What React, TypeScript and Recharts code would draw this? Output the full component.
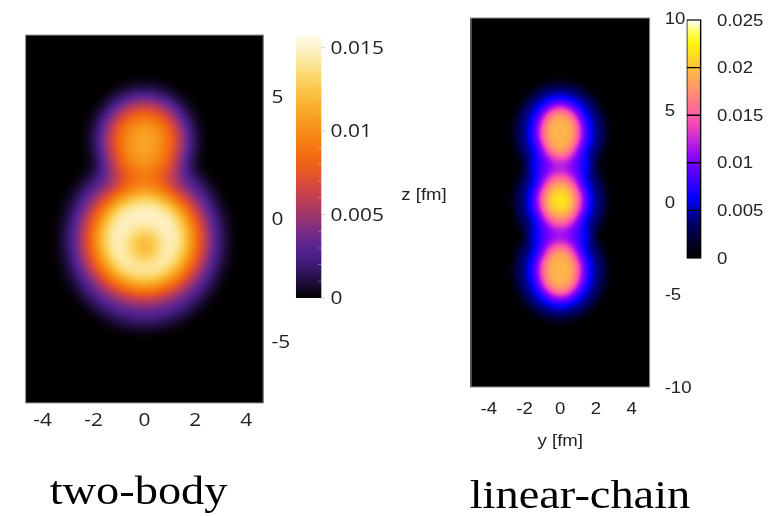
import React from 'react';
import { ComposedChart, XAxis, YAxis, ReferenceArea } from 'recharts';

// The whole figure is laid out on a narrower frame and widened horizontally.
const STRETCH = 1.16;
const FRAME_W = 778 / STRETCH;
const FRAME_H = 516;

type Shell = { y: number; z: number; ry: number; rz: number; w: number };
type Ring = Shell & { hy: number; hz: number; hry: number; hrz: number };

// ---------- two-body density ----------
const twoBodyYTicks = [-4, -2, 0, 2, 4];
const twoBodyZTicks = [-5, 0, 5];
const twoBodyYRange: [number, number] = [-4.67, 4.67];
const twoBodyZRange: [number, number] = [-7.5, 7.5];
const twoBodyScaleTicks = [0, 0.005, 0.01, 0.015];
const twoBodyScaleMinor = [0.001, 0.002, 0.003, 0.004, 0.006, 0.007, 0.008, 0.009, 0.011, 0.012, 0.013, 0.014];
const twoBodyScaleMax = 0.0157;
// iso-density shells (centre y, z in fm; semi-axes in fm; weight)
const twoBodyShells: Shell[] = [
  { y: 0, z: 3.2, ry: 1.9, rz: 2.0, w: 0.25 },
  { y: 0, z: 3.2, ry: 1.35, rz: 1.4, w: 0.42 },
  { y: 0, z: 3.2, ry: 0.7, rz: 0.75, w: 0.35 },
  { y: 0, z: -0.85, ry: 3.05, rz: 3.4, w: 0.2 },
  { y: 0, z: -0.85, ry: 2.45, rz: 2.5, w: 0.4 },
  { y: 0, z: -0.85, ry: 1.9, rz: 1.95, w: 0.45 },
];
// bright annulus of the heavier cluster
const twoBodyRings: Ring[] = [
  { y: 0, z: -0.8, ry: 1.6, rz: 1.7, hy: 0, hz: -1.1, hry: 0.6, hrz: 0.65, w: 0.82 },
];
const twoBodyColors = [
  '#000000', '#1a0b32', '#30155c', '#471d82', '#5c238e', '#762b86', '#943373',
  '#b13a5f', '#c9424c', '#dd4e34', '#ec5e1c', '#f46e10', '#f68014', '#f7921a',
  '#f9a424', '#fab632', '#fbc84c', '#fcd870', '#fde69c', '#fef2c8', '#fffbea',
];

// ---------- linear-chain density ----------
const chainYTicks = [-4, -2, 0, 2, 4];
const chainZTicks = [-10, -5, 0, 5, 10];
const chainYRange: [number, number] = [-5, 5];
const chainZRange: [number, number] = [-10, 10];
const chainScaleTicks = [0, 0.005, 0.01, 0.015, 0.02, 0.025];
const chainScaleLines = [0.005, 0.01, 0.015, 0.02];
const chainScaleMax = 0.025;
const chainShells: Shell[] = [
  { y: 0, z: 3.8, ry: 2.6, rz: 2.7, w: 0.15 },
  { y: 0, z: 3.8, ry: 1.8, rz: 2.0, w: 0.2 },
  { y: 0, z: 3.8, ry: 1.2, rz: 1.45, w: 0.45 },
  { y: 0, z: 3.8, ry: 0.85, rz: 1.1, w: 0.4 },
  { y: 0, z: 0.1, ry: 2.6, rz: 2.7, w: 0.15 },
  { y: 0, z: 0.1, ry: 1.8, rz: 2.0, w: 0.2 },
  { y: 0, z: 0.1, ry: 1.25, rz: 1.4, w: 0.45 },
  { y: 0, z: 0.1, ry: 0.9, rz: 1.0, w: 0.42 },
  { y: 0, z: 0.1, ry: 0.5, rz: 0.55, w: 0.5 },
  { y: 0, z: -3.7, ry: 2.6, rz: 2.7, w: 0.15 },
  { y: 0, z: -3.7, ry: 1.8, rz: 2.0, w: 0.2 },
  { y: 0, z: -3.7, ry: 1.2, rz: 1.45, w: 0.45 },
  { y: 0, z: -3.7, ry: 0.85, rz: 1.1, w: 0.4 },
];
const chainRings: Ring[] = [];
const chainColors = [
  '#000000', '#000018', '#000040', '#000070', '#0000b0', '#0000ff', '#2800ff',
  '#5000ff', '#7800ff', '#9f0ff0', '#c729d6', '#ef42bd', '#ff5ca3', '#ff758a',
  '#ff8f70', '#ffa857', '#ffc23d', '#ffdb24', '#fff50a', '#ffff60', '#ffffff',
];

const channel = (cmap: string[], k: number) =>
  cmap.map((c) => (parseInt(c.slice(1 + 2 * k, 3 + 2 * k), 16) / 255).toFixed(4)).join(' ');

const ellipsePath = (cx: number, cy: number, rx: number, ry: number) =>
  `M${cx - rx},${cy} a${rx},${ry} 0 1,0 ${2 * rx},0 a${rx},${ry} 0 1,0 ${-2 * rx},0 Z`;

// Density map: shells are blurred into one intensity field, then coloured by the palette.
function densityShape(
  id: string,
  yr: [number, number],
  zr: [number, number],
  shells: Shell[],
  rings: Ring[],
  cmap: string[],
  blur: string,
  border: string,
) {
  return (props: any) => {
    const { x, y, width, height } = props;
    const sx = width / (yr[1] - yr[0]);
    const sz = height / (zr[1] - zr[0]);
    const px = (v: number) => x + (v - yr[0]) * sx;
    const pz = (v: number) => y + (zr[1] - v) * sz;
    return (
      <g>
        <defs>
          <filter
            id={id}
            filterUnits="userSpaceOnUse"
            x={x}
            y={y}
            width={width}
            height={height}
            colorInterpolationFilters="sRGB"
          >
            <feGaussianBlur in="SourceGraphic" stdDeviation={blur} result="soft" />
            <feColorMatrix
              in="soft"
              type="matrix"
              values="0 0 0 1 0  0 0 0 1 0  0 0 0 1 0  0 0 0 0 1"
              result="level"
            />
            <feComponentTransfer in="level">
              <feFuncR type="table" tableValues={channel(cmap, 0)} />
              <feFuncG type="table" tableValues={channel(cmap, 1)} />
              <feFuncB type="table" tableValues={channel(cmap, 2)} />
            </feComponentTransfer>
          </filter>
        </defs>
        <rect x={x} y={y} width={width} height={height} fill="#000" />
        <g filter={`url(#${id})`}>
          {shells.map((s, i) => (
            <ellipse
              key={`s${i}`}
              cx={px(s.y)}
              cy={pz(s.z)}
              rx={s.ry * sx}
              ry={s.rz * sz}
              fill="#fff"
              fillOpacity={s.w}
            />
          ))}
          {rings.map((r, i) => (
            <path
              key={`r${i}`}
              d={
                ellipsePath(px(r.y), pz(r.z), r.ry * sx, r.rz * sz) +
                ellipsePath(px(r.hy), pz(r.hz), r.hry * sx, r.hrz * sz)
              }
              fillRule="evenodd"
              fill="#fff"
              fillOpacity={r.w}
            />
          ))}
        </g>
        <rect x={x} y={y} width={width} height={height} fill="none" stroke={border} strokeWidth={1} />
      </g>
    );
  };
}

// Colour scale bar: palette gradient, optional minor marks, level lines and frame.
function scaleShape(
  id: string,
  cmap: string[],
  max: number,
  lines: number[],
  minor: number[],
  frame: string,
) {
  return (props: any) => {
    const { x, y, width, height } = props;
    const py = (v: number) => y + height - (v / max) * height;
    return (
      <g>
        <defs>
          <linearGradient id={id} x1="0" y1="1" x2="0" y2="0">
            {cmap.map((c, i) => (
              <stop key={i} offset={i / (cmap.length - 1)} stopColor={c} />
            ))}
          </linearGradient>
        </defs>
        <rect x={x} y={y} width={width} height={height} fill={`url(#${id})`} />
        {minor.map((v) => (
          <line
            key={`m${v}`}
            x1={x + width - 2.5}
            x2={x + width}
            y1={py(v)}
            y2={py(v)}
            stroke="#ffffff"
            strokeOpacity={0.35}
            strokeWidth={1}
          />
        ))}
        {lines.map((v) => (
          <line key={v} x1={x} x2={x + width} y1={py(v)} y2={py(v)} stroke="#000" strokeWidth={1.4} />
        ))}
        {frame !== 'none' && (
          <rect x={x} y={y} width={width} height={height} fill="none" stroke={frame} strokeWidth={1.2} />
        )}
      </g>
    );
  };
}

const leftFont = { fontSize: 18, fill: '#222', fontFamily: '"Open Sans", sans-serif' };
const rightFont = { fontSize: 16, fill: '#222', fontFamily: '"Liberation Sans", Arial, sans-serif' };
const captionStyle = {
  fontSize: 40,
  fill: '#000',
  fontFamily: '"Liberation Serif", "Times New Roman", serif',
};

const pos = (left: number, top: number): React.CSSProperties => ({ position: 'absolute', left, top });

export default function App() {
  return (
    <div
      style={{
        position: 'absolute',
        left: 0,
        top: 0,
        width: FRAME_W,
        height: FRAME_H,
        background: '#fff',
        transform: `scaleX(${STRETCH})`,
        transformOrigin: '0 0',
      }}
    >
      {/* two-body density map */}
      <div style={pos(0, 0)}>
        <ComposedChart width={255} height={516} margin={{ top: 35, right: 0, bottom: 0, left: 22 }}>
          <XAxis
            type="number"
            dataKey="y"
            domain={twoBodyYRange}
            ticks={twoBodyYTicks}
            interval={0}
            allowDataOverflow
            axisLine={false}
            tickLine={false}
            tickMargin={4}
            height={113}
            tick={leftFont}
            label={{
              content: ({ viewBox }: any) => (
                <text
                  x={viewBox.x + viewBox.width / 2 - 5}
                  y={viewBox.y + 101}
                  textAnchor="middle"
                  style={captionStyle}
                >
                  two-body
                </text>
              ),
            }}
          />
          <YAxis
            type="number"
            orientation="right"
            domain={twoBodyZRange}
            ticks={twoBodyZTicks}
            interval={0}
            allowDataOverflow
            axisLine={false}
            tickLine={false}
            tickMargin={1}
            width={28}
            tick={leftFont}
          />
          <ReferenceArea
            x1={twoBodyYRange[0]}
            x2={twoBodyYRange[1]}
            y1={twoBodyZRange[0]}
            y2={twoBodyZRange[1]}
            ifOverflow="visible"
            shape={densityShape(
              'twoBodyHeat',
              twoBodyYRange,
              twoBodyZRange,
              twoBodyShells,
              twoBodyRings,
              twoBodyColors,
              '7.5 9',
              '#9a9a9a',
            )}
          />
        </ComposedChart>
      </div>

      {/* two-body colour scale */}
      <div style={pos(255, 0)}>
        <ComposedChart width={92} height={318} margin={{ top: 36, right: 0, bottom: 20, left: 0 }}>
          <XAxis
            type="number"
            dataKey="c"
            domain={[0, 1]}
            allowDataOverflow
            height={0}
            tick={false}
            axisLine={false}
            tickLine={false}
          />
          <YAxis
            type="number"
            orientation="right"
            domain={[0, twoBodyScaleMax]}
            ticks={twoBodyScaleTicks}
            interval={0}
            allowDataOverflow
            axisLine={false}
            tickLine={{ stroke: '#c8c8c8' }}
            tickSize={3}
            tickMargin={5}
            width={70}
            tick={leftFont}
          />
          <ReferenceArea
            x1={0}
            x2={1}
            y1={0}
            y2={twoBodyScaleMax}
            ifOverflow="visible"
            shape={scaleShape('twoBodyScale', twoBodyColors, twoBodyScaleMax, [], twoBodyScaleMinor, 'none')}
          />
        </ComposedChart>
      </div>

      {/* linear-chain density map */}
      <div style={pos(325, 0)}>
        <ComposedChart width={275} height={516} margin={{ top: 18, right: 0, bottom: 0, left: 0 }}>
          <XAxis
            type="number"
            dataKey="y"
            domain={chainYRange}
            ticks={chainYTicks}
            interval={0}
            allowDataOverflow
            axisLine={false}
            tickLine={false}
            tickMargin={10}
            height={129}
            tick={rightFont}
            label={{
              content: ({ viewBox }: any) => (
                <g>
                  <text
                    x={viewBox.x + viewBox.width / 2}
                    y={viewBox.y + 59}
                    textAnchor="middle"
                    style={rightFont}
                  >
                    y [fm]
                  </text>
                  <text
                    x={viewBox.x + viewBox.width / 2 + 17}
                    y={viewBox.y + 121}
                    textAnchor="middle"
                    style={captionStyle}
                  >
                    linear-chain
                  </text>
                </g>
              ),
            }}
          />
          <YAxis
            yAxisId="title"
            type="number"
            orientation="left"
            domain={chainZRange}
            tick={false}
            axisLine={false}
            tickLine={false}
            width={81}
            label={{
              content: ({ viewBox }: any) => (
                <text
                  x={viewBox.x + viewBox.width / 2}
                  y={viewBox.y + viewBox.height / 2 - 2}
                  textAnchor="middle"
                  style={rightFont}
                >
                  z [fm]
                </text>
              ),
            }}
          />
          <YAxis
            yAxisId="z"
            type="number"
            orientation="right"
            domain={chainZRange}
            ticks={chainZTicks}
            interval={0}
            allowDataOverflow
            axisLine={false}
            tickLine={false}
            tickMargin={7}
            width={40}
            tick={rightFont}
          />
          <ReferenceArea
            yAxisId="z"
            x1={chainYRange[0]}
            x2={chainYRange[1]}
            y1={chainZRange[0]}
            y2={chainZRange[1]}
            ifOverflow="visible"
            shape={densityShape(
              'chainHeat',
              chainYRange,
              chainZRange,
              chainShells,
              chainRings,
              chainColors,
              '4.3 5.3',
              '#8c8c8c',
            )}
          />
        </ComposedChart>
      </div>

      {/* linear-chain colour scale */}
      <div style={pos(592, 0)}>
        <ComposedChart width={82} height={278} margin={{ top: 20, right: 0, bottom: 20, left: 0 }}>
          <XAxis
            type="number"
            dataKey="c"
            domain={[0, 1]}
            allowDataOverflow
            height={0}
            tick={false}
            axisLine={false}
            tickLine={false}
          />
          <YAxis
            type="number"
            orientation="right"
            domain={[0, chainScaleMax]}
            ticks={chainScaleTicks}
            interval={0}
            allowDataOverflow
            axisLine={false}
            tickLine={false}
            tickSize={0}
            tickMargin={14}
            width={70}
            tick={rightFont}
          />
          <ReferenceArea
            x1={0}
            x2={1}
            y1={0}
            y2={chainScaleMax}
            ifOverflow="visible"
            shape={scaleShape('chainScale', chainColors, chainScaleMax, chainScaleLines, [], '#000')}
          />
        </ComposedChart>
      </div>
    </div>
  );
}
